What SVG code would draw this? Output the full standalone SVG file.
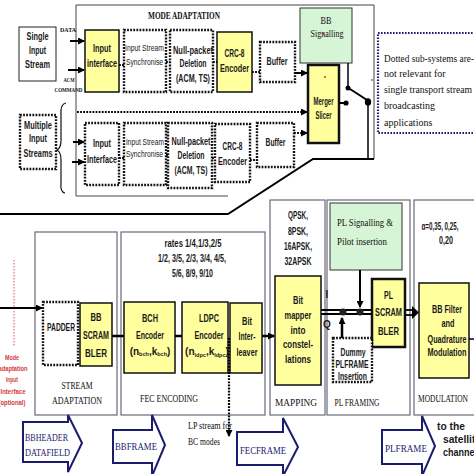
<svg xmlns="http://www.w3.org/2000/svg" width="474" height="474" viewBox="0 0 474 474">
<defs>
<marker id="ah" markerWidth="7" markerHeight="7" refX="6" refY="3.5" orient="auto" markerUnits="userSpaceOnUse"><path d="M0,0 L7,3.5 L0,7 z" fill="#000"/></marker>
<style>
.l{font-family:"Liberation Sans",Arial,sans-serif;font-weight:bold;font-size:10px;fill:#1a1a1a;text-anchor:middle}
.s{font-family:"Liberation Sans",Arial,sans-serif;font-size:8.5px;fill:#1a1a1a}
.sr{font-family:"Liberation Serif","Times New Roman",serif;font-size:10px;fill:#111}
.sb{font-family:"Liberation Serif","Times New Roman",serif;font-weight:bold;font-size:6.5px;fill:#111;text-anchor:middle}
.cap{font-family:"Liberation Serif","Times New Roman",serif;font-size:10px;fill:#111;text-anchor:middle}
.nv{font-family:"Liberation Serif","Times New Roman",serif;font-size:11px;fill:#1c1c6e}
.red{font-family:"Liberation Sans",Arial,sans-serif;font-weight:bold;font-size:7.5px;fill:#d43a3a;text-anchor:middle}
.y{fill:#ffff9e;stroke:#111;stroke-width:1.5}
.yt{fill:#ffff9e;stroke:#111;stroke-width:2.5}
.g{fill:#d6f5d6;stroke:#333;stroke-width:1}
.d{fill:#fff;stroke:#111;stroke-width:2.4;stroke-dasharray:1.8 1.3}
.st{fill:#fff;stroke:#6a6a7a;stroke-width:1.2}
.ba{fill:#fff;stroke:#1c1c6e;stroke-width:2}
.w{stroke:#000;stroke-width:2;fill:none}
.dl{stroke:#000;stroke-width:2.2;fill:none;stroke-dasharray:1.8 1.3}
</style>
</defs>
<rect width="474" height="474" fill="#fff"/>

<!-- frame of mode adaptation -->
<g id="mode-frame">
<path d="M228,196 H76 V5 H374 V159" fill="none" stroke="#444" stroke-width="1"/>
<path d="M0,214 H228 L313,159 H374" class="w"/>
<text x="184" y="19" class="cap" font-weight="bold" font-size="9" textLength="72" lengthAdjust="spacingAndGlyphs">MODE ADAPTATION</text>
</g>

<!-- stage boxes -->
<g id="stage-stream-adaptation"><rect x="35" y="232" width="82" height="183" class="st"/><text x="77" y="389" class="cap" textLength="31" lengthAdjust="spacingAndGlyphs">STREAM</text><text x="77" y="404" class="cap" textLength="50" lengthAdjust="spacingAndGlyphs">ADAPTATION</text></g>
<g id="stage-fec"><rect x="121" y="232" width="144" height="183" class="st"/><text x="169" y="402" class="cap" textLength="58" lengthAdjust="spacingAndGlyphs">FEC ENCODING</text>
<text x="193" y="246.5" class="l" font-weight="normal" font-size="9.5" textLength="57" lengthAdjust="spacingAndGlyphs">rates 1/4,1/3,2/5</text>
<text x="192" y="261.5" class="l" font-weight="normal" font-size="9.5" textLength="68" lengthAdjust="spacingAndGlyphs">1/2, 3/5, 2/3, 3/4, 4/5,</text>
<text x="192.5" y="276.5" class="l" font-weight="normal" font-size="9.5" textLength="41" lengthAdjust="spacingAndGlyphs">5/6, 8/9, 9/10</text></g>
<g id="stage-mapping"><rect x="270" y="200" width="55" height="215" class="st"/><text x="296" y="406" class="cap" textLength="42" lengthAdjust="spacingAndGlyphs">MAPPING</text>
<text x="298" y="218.5" class="l" font-weight="normal" font-size="9.5" textLength="20" lengthAdjust="spacingAndGlyphs">QPSK,</text>
<text x="298" y="234.5" class="l" font-weight="normal" font-size="9.5" textLength="20" lengthAdjust="spacingAndGlyphs">8PSK,</text>
<text x="298" y="249.5" class="l" font-weight="normal" font-size="9.5" textLength="28" lengthAdjust="spacingAndGlyphs">16APSK,</text>
<text x="298" y="264.5" class="l" font-weight="normal" font-size="9.5" textLength="27" lengthAdjust="spacingAndGlyphs">32APSK</text></g>
<g id="stage-plframing"><rect x="327" y="200" width="83" height="215" class="st"/><text x="357" y="406" class="cap" textLength="45" lengthAdjust="spacingAndGlyphs">PL FRAMING</text></g>
<g id="stage-modulation"><rect x="414" y="200" width="70" height="215" class="st"/><text x="443" y="402" class="cap" textLength="50" lengthAdjust="spacingAndGlyphs">MODULATION</text>
<text x="440" y="229.5" class="l" font-weight="normal" font-size="9" textLength="37" lengthAdjust="spacingAndGlyphs">α=0,35, 0,25,</text>
<text x="446" y="243.5" class="l" font-weight="normal" font-size="9" textLength="14" lengthAdjust="spacingAndGlyphs">0,20</text></g>

<!-- top-section nodes -->
<g id="single-input"><rect x="19" y="27" width="37" height="54" fill="#fff" stroke="#222" stroke-width="1"/>
<text x="37.5" y="39.5" class="l" textLength="22" lengthAdjust="spacingAndGlyphs">Single</text>
<text x="37.5" y="53.5" class="l" textLength="17" lengthAdjust="spacingAndGlyphs">Input</text>
<text x="37.5" y="67.5" class="l" textLength="25" lengthAdjust="spacingAndGlyphs">Stream</text></g>
<g id="labels-data"><text x="68" y="31.5" class="sb" textLength="16" lengthAdjust="spacingAndGlyphs">DATA</text>
<text x="69" y="82" class="sb" textLength="11" lengthAdjust="spacingAndGlyphs">ACM</text>
<text x="68.5" y="92" class="sb" textLength="28" lengthAdjust="spacingAndGlyphs">COMMAND</text></g>
<g id="input-interface-1"><rect x="85" y="30" width="34" height="62" class="y"/>
<text x="102" y="51.5" class="l" textLength="18" lengthAdjust="spacingAndGlyphs">Input</text>
<text x="102" y="66.5" class="l" textLength="30" lengthAdjust="spacingAndGlyphs">interface</text></g>
<g id="iss-1"><rect x="124" y="30" width="42" height="62" class="d"/>
<text x="125" y="50.5" class="s" textLength="39" lengthAdjust="spacingAndGlyphs">Input Stream</text>
<text x="126" y="65" class="s" textLength="37" lengthAdjust="spacingAndGlyphs">Synchronise</text></g>
<g id="null-1"><rect x="170" y="30" width="43" height="62" class="d"/>
<text x="193" y="53.5" class="l" textLength="40" lengthAdjust="spacingAndGlyphs">Null-packet</text>
<text x="193" y="66.5" class="l" textLength="27" lengthAdjust="spacingAndGlyphs">Deletion</text>
<text x="193" y="81.5" class="l" textLength="34" lengthAdjust="spacingAndGlyphs">(ACM, TS)</text></g>
<g id="crc-1"><rect x="217" y="32" width="35" height="60" class="y"/>
<text x="234.5" y="56.5" class="l" textLength="20" lengthAdjust="spacingAndGlyphs">CRC-8</text>
<text x="234.5" y="71.5" class="l" textLength="29" lengthAdjust="spacingAndGlyphs">Encoder</text></g>
<g id="buffer-1"><rect x="260" y="42" width="35" height="40" class="d"/>
<text x="277" y="64.5" class="l" textLength="21" lengthAdjust="spacingAndGlyphs">Buffer</text></g>
<g id="bb-signalling"><rect x="300" y="8" width="52" height="55" class="g"/>
<text x="326" y="23.5" class="cap" font-size="11" textLength="11" lengthAdjust="spacingAndGlyphs">BB</text>
<text x="327" y="37" class="cap" font-size="11" textLength="33" lengthAdjust="spacingAndGlyphs">Signalling</text>
<circle cx="323" cy="34" r="1.2" fill="#c03030"/></g>
<g id="merger-slicer"><rect x="308" y="65" width="31" height="78" class="yt"/>
<text x="323.5" y="104.5" class="l" textLength="20" lengthAdjust="spacingAndGlyphs">Merger</text>
<text x="323.5" y="118.5" class="l" textLength="16" lengthAdjust="spacingAndGlyphs">Slicer</text>
<circle cx="325" cy="77" r="1.1" fill="#d04040"/></g>
<g id="note"><rect x="378" y="33" width="110" height="100" fill="#fff" stroke="#1c1c6e" stroke-width="2.2" stroke-dasharray="1.6 1.4"/>
<text x="384" y="62" class="sr" textLength="90" lengthAdjust="spacingAndGlyphs">Dotted sub-systems are-</text>
<text x="384" y="77" class="sr">not relevant for</text>
<text x="384" y="93" class="sr" textLength="88" lengthAdjust="spacingAndGlyphs">single transport stream</text>
<text x="384" y="109" class="sr">broadcasting</text>
<text x="384" y="126" class="sr">applications</text>
<circle cx="372" cy="80" r="0.9" fill="#d04040"/></g>

<!-- lower mode adaptation row -->
<g id="multiple-input"><rect x="20" y="115" width="36" height="54" class="d" stroke-width="1.8"/>
<text x="38" y="128.5" class="l" textLength="28" lengthAdjust="spacingAndGlyphs">Multiple</text>
<text x="38" y="142" class="l" textLength="18" lengthAdjust="spacingAndGlyphs">Input</text>
<text x="38" y="156.5" class="l" textLength="29" lengthAdjust="spacingAndGlyphs">Streams</text>
<path d="M66,103 Q60,104 61,115 L61,140 Q61,148 57,150 Q61,152 61,160 L61,183 Q60,192 65,193" fill="none" stroke="#111" stroke-width="1.2"/></g>
<g id="input-interface-2"><rect x="85" y="123" width="34" height="62" class="d"/>
<text x="102" y="146.5" class="l" textLength="18" lengthAdjust="spacingAndGlyphs">Input</text>
<text x="102" y="163" class="l" textLength="30" lengthAdjust="spacingAndGlyphs">Interface</text></g>
<g id="iss-2"><rect x="124" y="123" width="42" height="62" class="d"/>
<text x="126" y="145" class="s" textLength="38" lengthAdjust="spacingAndGlyphs">Input Stream</text>
<text x="126" y="157" class="s" textLength="37" lengthAdjust="spacingAndGlyphs">Synchronise</text></g>
<g id="null-2"><rect x="168" y="123" width="44" height="65" class="d"/>
<text x="191" y="145" class="l" textLength="39" lengthAdjust="spacingAndGlyphs">Null-packet</text>
<text x="191" y="158.5" class="l" textLength="27" lengthAdjust="spacingAndGlyphs">Deletion</text>
<text x="191" y="173.5" class="l" textLength="33" lengthAdjust="spacingAndGlyphs">(ACM, TS)</text></g>
<g id="crc-2"><rect x="215" y="124" width="35" height="58" class="d"/>
<text x="232.5" y="150" class="l" textLength="20" lengthAdjust="spacingAndGlyphs">CRC-8</text>
<text x="232.5" y="165" class="l" textLength="29" lengthAdjust="spacingAndGlyphs">Encoder</text></g>
<g id="buffer-2"><rect x="257" y="123" width="37" height="44" class="d"/>
<text x="275.5" y="145.5" class="l" textLength="20" lengthAdjust="spacingAndGlyphs">Buffer</text></g>

<!-- lower section nodes -->
<g id="mode-adapt-optional"><line x1="14" y1="260" x2="14" y2="346" stroke="#e05050" stroke-width="1" stroke-dasharray="1.5 1.5"/>
<text x="12" y="360" class="red" textLength="14" lengthAdjust="spacingAndGlyphs">Mode</text>
<text x="13" y="371" class="red" textLength="29" lengthAdjust="spacingAndGlyphs">adaptation</text>
<text x="12" y="382" class="red" textLength="12" lengthAdjust="spacingAndGlyphs">Input</text>
<text x="13" y="394" class="red" textLength="25" lengthAdjust="spacingAndGlyphs">Interface</text>
<text x="12" y="405" class="red" textLength="27" lengthAdjust="spacingAndGlyphs">(optional)</text></g>
<g id="padder"><rect x="43" y="302" width="35" height="63" class="d"/>
<text x="61" y="330.5" class="l" textLength="28" lengthAdjust="spacingAndGlyphs">PADDER</text></g>
<g id="bb-scrambler"><rect x="80" y="303" width="32" height="63" class="y"/>
<text x="96" y="320.5" class="l" textLength="11" lengthAdjust="spacingAndGlyphs">BB</text>
<text x="96" y="338.5" class="l" textLength="26" lengthAdjust="spacingAndGlyphs">SCRAM</text>
<text x="96" y="356.5" class="l" textLength="22" lengthAdjust="spacingAndGlyphs">BLER</text></g>
<g id="bch"><rect x="124" y="302" width="51" height="71" class="y"/>
<text x="150" y="321.5" class="l" textLength="16" lengthAdjust="spacingAndGlyphs">BCH</text>
<text x="150" y="338.5" class="l" textLength="28" lengthAdjust="spacingAndGlyphs">Encoder</text>
<text x="150" y="354.5" class="l" font-weight="normal" font-size="8.5">(n<tspan font-size="5.5" dy="1.5">bch</tspan><tspan dy="-1.5">,k</tspan><tspan font-size="5.5" dy="1.5">bch</tspan><tspan dy="-1.5">)</tspan></text></g>
<g id="ldpc"><rect x="182" y="302" width="46" height="71" class="y"/>
<text x="209" y="321.5" class="l" textLength="20" lengthAdjust="spacingAndGlyphs">LDPC</text>
<text x="209" y="338.5" class="l" textLength="29" lengthAdjust="spacingAndGlyphs">Encoder</text>
<text x="207" y="355" class="l" font-weight="normal" font-size="8.5">(n<tspan font-size="5.5" dy="1.5">ldpc</tspan><tspan dy="-1.5">,k</tspan><tspan font-size="5.5" dy="1.5">ldpc</tspan><tspan dy="-1.5">)</tspan></text></g>
<g id="bit-interleaver"><rect x="230" y="303" width="32" height="70" class="y"/>
<text x="247" y="325" class="l" textLength="10" lengthAdjust="spacingAndGlyphs">Bit</text>
<text x="247" y="339.5" class="l" textLength="17" lengthAdjust="spacingAndGlyphs">Inter-</text>
<text x="247" y="355.5" class="l" textLength="21" lengthAdjust="spacingAndGlyphs">leaver</text></g>
<g id="lp-label"><text x="188" y="429" class="sr" textLength="44" lengthAdjust="spacingAndGlyphs">LP stream for</text>
<text x="188" y="445" class="sr" textLength="32" lengthAdjust="spacingAndGlyphs">BC modes</text></g>
<g id="bit-mapper"><rect x="275" y="276" width="46" height="109" class="y"/>
<text x="298" y="303.5" class="l" textLength="10" lengthAdjust="spacingAndGlyphs">Bit</text>
<text x="298" y="318.5" class="l" textLength="27" lengthAdjust="spacingAndGlyphs">mapper</text>
<text x="298" y="333.5" class="l" textLength="15" lengthAdjust="spacingAndGlyphs">into</text>
<text x="298" y="347.5" class="l" textLength="30" lengthAdjust="spacingAndGlyphs">constel-</text>
<text x="298" y="362.5" class="l" textLength="26" lengthAdjust="spacingAndGlyphs">lations</text></g>
<g id="pl-signalling"><rect x="330" y="203" width="72" height="67" class="g"/>
<text x="337" y="225.5" class="sr" font-size="10.5" textLength="56" lengthAdjust="spacingAndGlyphs">PL Signalling &amp;</text>
<text x="337" y="244.5" class="sr" font-size="10.5" textLength="50" lengthAdjust="spacingAndGlyphs">Pilot insertion</text></g>
<g id="pl-scrambler"><rect x="372" y="279" width="33" height="68" class="yt" stroke-width="2"/>
<text x="388.5" y="298.5" class="l" textLength="9" lengthAdjust="spacingAndGlyphs">PL</text>
<text x="388.5" y="315.5" class="l" textLength="27" lengthAdjust="spacingAndGlyphs">SCRAM</text>
<text x="388.5" y="334.5" class="l" textLength="21" lengthAdjust="spacingAndGlyphs">BLER</text></g>
<g id="dummy-plframe"><rect x="333" y="338" width="39" height="44" class="d"/>
<text x="353" y="356" class="l" font-weight="normal" font-size="9" textLength="25" lengthAdjust="spacingAndGlyphs">Dummy</text>
<text x="352" y="368" class="l" font-weight="normal" font-size="9" textLength="33" lengthAdjust="spacingAndGlyphs">PLFRAME</text>
<text x="352.5" y="380" class="l" font-weight="normal" font-size="9" textLength="29" lengthAdjust="spacingAndGlyphs">Insertion</text></g>
<g id="bb-filter"><rect x="419" y="283" width="50" height="95" class="y"/>
<text x="447" y="312.5" class="l" textLength="30" lengthAdjust="spacingAndGlyphs">BB Filter</text>
<text x="448" y="326.5" class="l" textLength="13" lengthAdjust="spacingAndGlyphs">and</text>
<text x="447" y="342.5" class="l" textLength="39" lengthAdjust="spacingAndGlyphs">Quadrature</text>
<text x="447" y="355.5" class="l" textLength="39" lengthAdjust="spacingAndGlyphs">Modulation</text></g>
<g id="iq-labels"><text x="327" y="298" class="l" font-size="9">I</text><text x="327" y="328" class="l" font-size="9">Q</text></g>
<g id="to-satellite"><text x="437" y="430" class="l" style="text-anchor:start" font-size="9.5" textLength="28" lengthAdjust="spacingAndGlyphs">to the</text>
<text x="443" y="443" class="l" style="text-anchor:start" font-size="9.5" textLength="38" lengthAdjust="spacingAndGlyphs">satellite</text>
<text x="443" y="456" class="l" style="text-anchor:start" font-size="9.5" textLength="34" lengthAdjust="spacingAndGlyphs">channel</text></g>

<!-- block arrows -->
<g id="arrow-bbheader"><polygon points="23,422 68,422 68,415 82,443 68,472 68,462 23,462" class="ba"/>
<text x="25" y="441" class="nv" textLength="43" lengthAdjust="spacingAndGlyphs">BBHEADER</text>
<text x="25" y="456" class="nv" textLength="45" lengthAdjust="spacingAndGlyphs">DATAFIELD</text></g>
<g id="arrow-bbframe"><polygon points="113,430 152,430 152,415 165,445 152,476 152,463 113,463" class="ba"/>
<text x="115" y="450" class="nv" textLength="42" lengthAdjust="spacingAndGlyphs">BBFRAME</text></g>
<g id="arrow-fecframe"><polygon points="237,432 283,432 283,418 298,447 283,476 283,465 237,465" class="ba"/>
<text x="240" y="454" class="nv" textLength="46" lengthAdjust="spacingAndGlyphs">FECFRAME</text></g>
<g id="arrow-plframe"><polygon points="382,430 422,430 422,416 435,446 422,476 422,464 382,464" class="ba"/>
<text x="385" y="452" class="nv" textLength="42" lengthAdjust="spacingAndGlyphs">PLFRAME</text></g>

<!-- connectors -->
<g id="connectors">
<line x1="70" y1="41" x2="84" y2="41" class="w" marker-end="url(#ah)"/>
<line x1="68" y1="70" x2="84" y2="70" class="w" marker-end="url(#ah)"/>
<line x1="119" y1="65" x2="124" y2="65" class="dl"/>
<line x1="166" y1="62" x2="170" y2="62" class="dl"/>
<line x1="213" y1="62" x2="217" y2="62" class="dl"/>
<line x1="252" y1="72" x2="260" y2="72" class="dl"/>
<line x1="295" y1="73" x2="307" y2="73" class="w" marker-end="url(#ah)"/>
<line x1="77" y1="112" x2="307" y2="112" class="dl" marker-end="url(#ah)"/>
<line x1="294" y1="133" x2="307" y2="133" class="dl" marker-end="url(#ah)"/>
<line x1="73" y1="142" x2="84" y2="142" class="w" marker-end="url(#ah)"/>
<line x1="72" y1="162" x2="84" y2="162" class="w" marker-end="url(#ah)"/>
<line x1="119" y1="158" x2="124" y2="158" class="dl"/>
<line x1="166" y1="155" x2="168" y2="155" class="dl"/>
<line x1="212" y1="158" x2="215" y2="158" class="dl"/>
<line x1="250" y1="160" x2="257" y2="160" class="dl"/>
<!-- switch -->
<line x1="348" y1="63" x2="348" y2="87" stroke="#000" stroke-width="1.5"/>
<circle cx="348" cy="88" r="2.5" fill="#000"/>
<line x1="339" y1="103" x2="346" y2="103" stroke="#000" stroke-width="2"/>
<circle cx="346" cy="103" r="2.6" fill="#000"/>
<line x1="350" y1="89" x2="367" y2="100" stroke="#000" stroke-width="2"/>
<ellipse cx="368" cy="102" rx="3.2" ry="3.8" fill="#000"/>
<line x1="368" y1="102" x2="368" y2="159" stroke="#000" stroke-width="1.5"/>
<!-- lower path -->
<line x1="0" y1="308" x2="42" y2="308" class="w" marker-end="url(#ah)"/>
<line x1="112" y1="336" x2="124" y2="336" stroke="#000" stroke-width="2.5"/>
<line x1="175" y1="336" x2="182" y2="336" stroke="#000" stroke-width="2.5"/>
<line x1="229" y1="338" x2="229" y2="436" class="dl" stroke-width="2" marker-end="url(#ah)"/>
<line x1="262" y1="336" x2="274" y2="336" stroke="#000" stroke-width="2.5" marker-end="url(#ah)"/>
<line x1="321" y1="310" x2="372" y2="310" stroke="#000" stroke-width="1.8"/>
<line x1="321" y1="314" x2="372" y2="314" stroke="#000" stroke-width="1.8"/>
<circle cx="343" cy="312" r="3.5" fill="#222"/>
<circle cx="360" cy="312" r="3.5" fill="#222"/>
<line x1="360" y1="270" x2="360" y2="307" class="w" marker-end="url(#ah)"/>
<line x1="342" y1="338" x2="342" y2="318" stroke="#000" stroke-width="2.5" marker-end="url(#ah)"/>
<line x1="405" y1="310" x2="413" y2="310" stroke="#000" stroke-width="1.8"/>
<line x1="405" y1="315" x2="413" y2="315" stroke="#000" stroke-width="1.8"/>
<path d="M412,306 L419,312.5 L412,319 z" fill="#000"/>
<line x1="469" y1="339" x2="474" y2="339" stroke="#000" stroke-width="1.5"/>
</g>
</svg>
